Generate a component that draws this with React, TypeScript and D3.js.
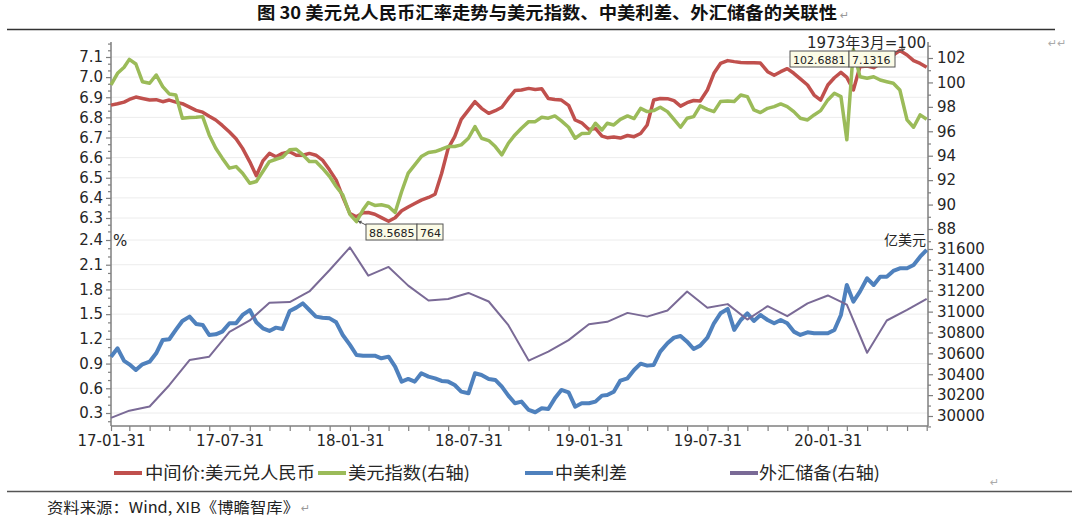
import React, { useRef, useEffect } from 'react';
import * as d3 from 'd3';

const W = 1080;
const H = 523;

// sampling dates for the daily series: 10th, 20th and month end
const firstDay = new Date(2017, 0, 31);
const sampleMonths = d3.timeMonth.range(new Date(2017, 1, 1), new Date(2020, 6, 1));
const dates: Date[] = [firstDay];
sampleMonths.forEach(m => {
    dates.push(new Date(m.getFullYear(), m.getMonth(), 10));
    dates.push(new Date(m.getFullYear(), m.getMonth(), 20));
    dates.push(new Date(m.getFullYear(), m.getMonth() + 1, 0));
});
// month ends for reserves
const reserveDates = d3.timeMonth.range(new Date(2017, 0, 1), new Date(2020, 6, 1))
    .map(m => new Date(m.getFullYear(), m.getMonth() + 1, 0));

// 中间价:美元兑人民币
const cnyMid = [
    6.861, 6.868, 6.876, 6.889, 6.901, 6.894, 6.886, 6.888, 6.878, 6.886,
    6.876, 6.868, 6.851, 6.835, 6.826, 6.806, 6.787, 6.760, 6.727, 6.694,
    6.646, 6.579, 6.510, 6.584, 6.621, 6.604, 6.621, 6.629, 6.612, 6.612,
    6.621, 6.612, 6.588, 6.538, 6.488, 6.405, 6.322, 6.306, 6.326, 6.327,
    6.319, 6.302, 6.284, 6.301, 6.336, 6.355, 6.372, 6.389, 6.402, 6.418,
    6.521, 6.646, 6.704, 6.790, 6.836, 6.878, 6.845, 6.820, 6.833, 6.850,
    6.894, 6.933, 6.936, 6.944, 6.939, 6.942, 6.894, 6.889, 6.886, 6.860,
    6.787, 6.773, 6.740, 6.745, 6.707, 6.699, 6.702, 6.697, 6.710, 6.704,
    6.720, 6.762, 6.886, 6.894, 6.893, 6.883, 6.856, 6.873, 6.884, 6.881,
    6.936, 7.019, 7.068, 7.082, 7.077, 7.073, 7.072, 7.072, 7.070, 7.027,
    7.009, 7.027, 7.042, 7.019, 6.991, 6.961, 6.911, 6.886, 6.961, 6.997,
    7.024, 6.999, 6.936, 7.052, 7.055, 7.047, 7.068, 7.093, 7.110, 7.132,
    7.110, 7.082, 7.068, 7.049,
];

// 美元指数(右轴)
const dxy = [
    99.80, 100.75, 101.24, 101.89, 101.51, 100.06, 99.93, 100.61, 99.66, 99.06,
    98.97, 97.07, 97.12, 97.15, 97.20, 95.70, 94.61, 93.80, 92.98, 93.11,
    92.57, 91.75, 91.89, 92.71, 93.52, 93.71, 93.88, 94.48, 94.53, 94.07,
    93.52, 93.52, 92.98, 92.30, 91.48, 90.80, 89.20, 88.60, 89.57, 90.17,
    89.93, 89.98, 89.84, 89.35, 91.07, 92.57, 93.25, 93.93, 94.26, 94.34,
    94.53, 94.75, 94.75, 94.89, 95.43, 96.39, 95.43, 95.24, 94.75, 94.07,
    95.02, 95.70, 96.25, 96.79, 96.79, 97.15, 97.07, 97.26, 96.85, 96.33,
    95.43, 95.81, 95.84, 96.66, 96.11, 96.66, 96.52, 96.98, 97.26, 97.04,
    97.88, 97.61, 97.69, 97.97, 97.61, 96.98, 96.33, 97.07, 97.20, 98.08,
    97.80, 97.61, 98.43, 98.48, 98.43, 98.97, 98.84, 97.75, 97.53, 97.88,
    98.02, 98.24, 98.02, 97.61, 97.07, 96.93, 97.34, 97.69, 98.57, 99.11,
    98.84, 95.30, 102.69, 100.47, 100.34, 100.47, 100.20, 100.06, 99.93, 99.38,
    96.93, 96.33, 97.34, 96.98,
];

// 中美利差 (%)
const spread = [
    0.984, 1.085, 0.932, 0.891, 0.822, 0.891, 0.923, 1.025, 1.186, 1.195,
    1.308, 1.417, 1.470, 1.381, 1.369, 1.247, 1.255, 1.288, 1.389, 1.389,
    1.490, 1.550, 1.401, 1.328, 1.296, 1.336, 1.320, 1.538, 1.579, 1.631,
    1.550, 1.470, 1.457, 1.449, 1.401, 1.247, 1.126, 1.004, 0.996, 0.996,
    0.996, 0.964, 0.984, 0.863, 0.681, 0.713, 0.681, 0.782, 0.741, 0.721,
    0.689, 0.681, 0.640, 0.559, 0.539, 0.782, 0.762, 0.713, 0.701, 0.620,
    0.511, 0.418, 0.438, 0.337, 0.309, 0.357, 0.349, 0.478, 0.580, 0.551,
    0.377, 0.418, 0.418, 0.438, 0.511, 0.519, 0.559, 0.693, 0.721, 0.822,
    0.899, 0.875, 0.883, 1.045, 1.146, 1.215, 1.235, 1.166, 1.077, 1.118,
    1.215, 1.389, 1.510, 1.563, 1.308, 1.429, 1.510, 1.417, 1.490, 1.429,
    1.389, 1.429, 1.389, 1.288, 1.247, 1.279, 1.267, 1.267, 1.267, 1.308,
    1.490, 1.854, 1.652, 1.773, 1.935, 1.854, 1.955, 1.955, 2.024, 2.056,
    2.056, 2.097, 2.198, 2.279,
];

// 外汇储备(右轴), 亿美元
const reserves = [
    29982, 30051, 30091, 30295, 30536, 30568, 30807, 30915, 31085, 31092,
    31193, 31399, 31615, 31345, 31428, 31249, 31106, 31121, 31179, 31097,
    30870, 30531, 30617, 30727, 30879, 30902, 30988, 30952, 31010, 31192,
    31037, 31072, 30924, 31052, 30956, 31079, 31155, 31067, 30606, 30915,
    31017, 31123,
];

const cnyTicks = [6.3, 6.4, 6.5, 6.6, 6.7, 6.8, 6.9, 7.0, 7.1];
const dxyTicks = [88, 90, 92, 94, 96, 98, 100, 102];
const spreadTicks = [0.3, 0.6, 0.9, 1.2, 1.5, 1.8, 2.1, 2.4];
const reserveTicks = [30000, 30200, 30400, 30600, 30800, 31000, 31200, 31400, 31600];
const xLabelDates = ['2017-01-31', '2017-07-31', '2018-01-31', '2018-07-31', '2019-01-31', '2019-07-31', '2020-01-31'];

const legendItems = [
    { name: '中间价:美元兑人民币', color: '#c0504d' },
    { name: '美元指数(右轴)', color: '#9bbb59' },
    { name: '中美利差', color: '#4f81bd' },
    { name: '外汇储备(右轴)', color: '#7a6a96' },
];

const NUM_FONT = 'DejaVu Sans, Noto Sans CJK SC, sans-serif';
const CJK_FONT = 'Noto Sans CJK SC, sans-serif';

export default function App() {
    const svgRef = useRef<SVGSVGElement>(null);

    useEffect(() => {
        const svg = d3.select(svgRef.current);
        svg.selectAll('*').remove();

        const left = 111, right = 928, axisTop = 42, axisBottom = 426;
        const axisColor = '#7f7f7f';
        const textColor = '#262626';

        const x = d3.scaleTime()
            .domain([new Date(2017, 0, 31), new Date(2020, 6, 2)])
            .range([left, right]);

        const yCny = d3.scaleLinear().domain([6.3, 7.1]).range([218, 57]);
        const yDxy = d3.scaleLinear().domain([88, 102]).range([229, 58]);
        const ySpread = d3.scaleLinear().domain([0.3, 2.4]).range([413, 240]);
        const yRes = d3.scaleLinear().domain([30000, 31600]).range([416, 249]);

        svg.append('rect').attr('width', W).attr('height', H).attr('fill', '#fff');

        // title
        svg.append('text')
            .attr('x', 257).attr('y', 19)
            .attr('font-family', CJK_FONT).attr('font-weight', 700)
            .attr('font-size', 17).attr('fill', '#111')
            .attr('textLength', 580).attr('lengthAdjust', 'spacingAndGlyphs')
            .text('图 30 美元兑人民币汇率走势与美元指数、中美利差、外汇储备的关联性');
        svg.append('text')
            .attr('x', 840).attr('y', 19)
            .attr('font-family', NUM_FONT).attr('font-size', 11).attr('fill', '#999')
            .text('↵');
        svg.append('line')
            .attr('x1', 7).attr('x2', 1055).attr('y1', 29.5).attr('y2', 29.5)
            .attr('stroke', '#333').attr('stroke-width', 1.5);

        // gridlines
        const grid = svg.append('g').attr('stroke', '#ececec').attr('stroke-width', 1);
        cnyTicks.forEach(t => grid.append('line')
            .attr('x1', left).attr('x2', right).attr('y1', yCny(t)).attr('y2', yCny(t)));
        spreadTicks.forEach(t => grid.append('line')
            .attr('x1', left).attr('x2', right).attr('y1', ySpread(t)).attr('y2', ySpread(t)));

        const styleAxis = (g: any) => {
            g.select('.domain').remove();
            g.selectAll('.tick line').attr('stroke', axisColor).attr('stroke-width', 1.2);
            g.selectAll('.tick text')
                .attr('font-size', 15).attr('font-family', NUM_FONT).attr('fill', textColor);
        };

        const minorRange = (lo: number, hi: number, step: number, majors: number[]) =>
            d3.range(Math.round(lo / step), Math.round(hi / step) + 1)
                .map(k => k * step)
                .filter(v => !majors.some(m => Math.abs(m - v) < step / 4));

        // left axes
        svg.append('g').attr('transform', `translate(${left},0)`)
            .call(d3.axisLeft(yCny).tickValues(cnyTicks).tickSize(5).tickPadding(3).tickFormat(d3.format('.1f')))
            .call(styleAxis);
        svg.append('g').attr('transform', `translate(${left},0)`)
            .call(d3.axisLeft(yCny).tickValues(minorRange(6.2333, 7.1667, 0.1 / 3, cnyTicks)).tickSize(3).tickFormat(() => ''))
            .call(styleAxis);
        svg.append('g').attr('transform', `translate(${left},0)`)
            .call(d3.axisLeft(ySpread).tickValues(spreadTicks).tickSize(5).tickPadding(3).tickFormat(d3.format('.1f')))
            .call(styleAxis);
        svg.append('g').attr('transform', `translate(${left},0)`)
            .call(d3.axisLeft(ySpread).tickValues(minorRange(0.2, 2.4, 0.1, spreadTicks)).tickSize(3).tickFormat(() => ''))
            .call(styleAxis);

        // right axes
        svg.append('g').attr('transform', `translate(${right},0)`)
            .call(d3.axisRight(yDxy).tickValues(dxyTicks).tickSize(5).tickPadding(4).tickFormat(d3.format('d')))
            .call(styleAxis);
        svg.append('g').attr('transform', `translate(${right},0)`)
            .call(d3.axisRight(yDxy).tickValues(minorRange(87, 103, 1, dxyTicks)).tickSize(3).tickFormat(() => ''))
            .call(styleAxis);
        svg.append('g').attr('transform', `translate(${right},0)`)
            .call(d3.axisRight(yRes).tickValues(reserveTicks).tickSize(5).tickPadding(4).tickFormat(d3.format('d')))
            .call(styleAxis);
        svg.append('g').attr('transform', `translate(${right},0)`)
            .call(d3.axisRight(yRes).tickValues(minorRange(29900, 31600, 100, reserveTicks)).tickSize(3).tickFormat(() => ''))
            .call(styleAxis);

        // bottom axis, monthly ticks and half-year labels
        const labelSet = new Set(xLabelDates);
        const fmtKey = d3.timeFormat('%Y-%m-%d');
        svg.append('g').attr('transform', `translate(0,${axisBottom})`)
            .call(d3.axisBottom(x).tickValues(reserveDates).tickSize(5).tickPadding(4)
                .tickFormat((d: any) => labelSet.has(fmtKey(d)) ? d3.timeFormat('%y-%m-%d')(d) : ''))
            .call(styleAxis);

        // axis lines
        const axes = svg.append('g').attr('stroke', axisColor).attr('stroke-width', 1.5);
        axes.append('line').attr('x1', left).attr('x2', left).attr('y1', axisTop).attr('y2', axisBottom);
        axes.append('line').attr('x1', right).attr('x2', right).attr('y1', axisTop).attr('y2', axisBottom);
        axes.append('line').attr('x1', left).attr('x2', right).attr('y1', axisBottom).attr('y2', axisBottom);

        // series
        const lineOf = (yScale: any) => d3.line<number>()
            .x((_, i) => x(dates[i]))
            .y(d => yScale(d));

        svg.append('path').datum(cnyMid)
            .attr('fill', 'none').attr('stroke', legendItems[0].color).attr('stroke-width', 3.5)
            .attr('stroke-linejoin', 'round').attr('d', lineOf(yCny));
        svg.append('path').datum(dxy)
            .attr('fill', 'none').attr('stroke', legendItems[1].color).attr('stroke-width', 3.5)
            .attr('stroke-linejoin', 'round').attr('d', lineOf(yDxy));
        svg.append('path').datum(spread)
            .attr('fill', 'none').attr('stroke', legendItems[2].color).attr('stroke-width', 4)
            .attr('stroke-linejoin', 'round').attr('d', lineOf(ySpread));
        svg.append('path').datum(reserves)
            .attr('fill', 'none').attr('stroke', legendItems[3].color).attr('stroke-width', 2)
            .attr('stroke-linejoin', 'round')
            .attr('d', d3.line<number>().x((_, i) => x(reserveDates[i])).y(d => yRes(d)));

        // unit labels
        svg.append('text').attr('x', 926).attr('y', 48).attr('text-anchor', 'end')
            .attr('font-family', NUM_FONT).attr('font-size', 15).attr('fill', textColor)
            .text('1973年3月=100');
        svg.append('text').attr('x', 113).attr('y', 246)
            .attr('font-family', NUM_FONT).attr('font-size', 15).attr('fill', textColor)
            .text('%');
        svg.append('text').attr('x', 926).attr('y', 245).attr('text-anchor', 'end')
            .attr('font-family', CJK_FONT).attr('font-size', 14).attr('fill', textColor)
            .text('亿美元');
        svg.append('text').attr('x', 1048).attr('y', 47)
            .attr('font-family', NUM_FONT).attr('font-size', 11).attr('fill', '#aaa')
            .text('↵↵');

        // value callouts
        const callout = (x0: number, y0: number, w: number, label: string) => {
            svg.append('rect').attr('x', x0).attr('y', y0).attr('width', w).attr('height', 16)
                .attr('fill', '#fbfbe6').attr('stroke', '#555').attr('stroke-width', 1);
            svg.append('text').attr('x', x0 + 3).attr('y', y0 + 12.5)
                .attr('font-family', NUM_FONT).attr('font-size', 11).attr('fill', '#222')
                .text(label);
        };
        callout(790, 51, 59, '102.6881');
        callout(849, 51, 46, '7.1316');
        callout(366, 224, 51, '88.5685');
        callout(417, 224, 26, '764');
        const arrow = (x1: number, y1: number, x2: number, y2: number) => {
            svg.append('line').attr('x1', x1).attr('y1', y1).attr('x2', x2).attr('y2', y2)
                .attr('stroke', '#555').attr('stroke-width', 1);
            const a = Math.atan2(y2 - y1, x2 - x1);
            const p = [
                [x2, y2],
                [x2 - 4 * Math.cos(a - 0.5), y2 - 4 * Math.sin(a - 0.5)],
                [x2 - 4 * Math.cos(a + 0.5), y2 - 4 * Math.sin(a + 0.5)],
            ];
            svg.append('path').attr('d', `M${p.map(q => q.join(',')).join('L')}Z`).attr('fill', '#555');
        };
        arrow(895, 52, 905, 49);
        arrow(366, 225, 358, 221);

        // legend
        const legendPos = [
            { lx: 114, tx: 145, tw: 170 },
            { lx: 318, tx: 348, tw: 122 },
            { lx: 525, tx: 555, tw: 72 },
            { lx: 730, tx: 759, tw: 121 },
        ];
        const legend = svg.append('g');
        legendItems.forEach((item, i) => {
            const p = legendPos[i];
            legend.append('line')
                .attr('x1', p.lx).attr('x2', p.lx + 28).attr('y1', 473).attr('y2', 473)
                .attr('stroke', item.color).attr('stroke-width', 4);
            legend.append('text')
                .attr('x', p.tx).attr('y', 479)
                .attr('font-family', CJK_FONT).attr('font-size', 17).attr('fill', textColor)
                .attr('textLength', p.tw).attr('lengthAdjust', 'spacingAndGlyphs')
                .text(item.name);
        });
        svg.append('text').attr('x', 990).attr('y', 486)
            .attr('font-family', NUM_FONT).attr('font-size', 11).attr('fill', '#aaa')
            .text('↵');

        // footer
        svg.append('line')
            .attr('x1', 7).attr('x2', 1072).attr('y1', 491.5).attr('y2', 491.5)
            .attr('stroke', '#555').attr('stroke-width', 1.5);
        svg.append('text').attr('x', 47).attr('y', 513)
            .attr('font-family', CJK_FONT).attr('font-size', 15).attr('fill', '#222')
            .attr('textLength', 252).attr('lengthAdjust', 'spacingAndGlyphs')
            .text('资料来源：Wind, XIB《博瞻智库》');
        svg.append('text').attr('x', 301).attr('y', 512)
            .attr('font-family', NUM_FONT).attr('font-size', 11).attr('fill', '#999')
            .text('↵');
    }, []);

    return (
        <svg
            ref={svgRef}
            width={W}
            height={H}
            viewBox={`0 0 ${W} ${H}`}
            style={{ position: 'absolute', left: 0, top: 0, display: 'block' }}
        />
    );
}
